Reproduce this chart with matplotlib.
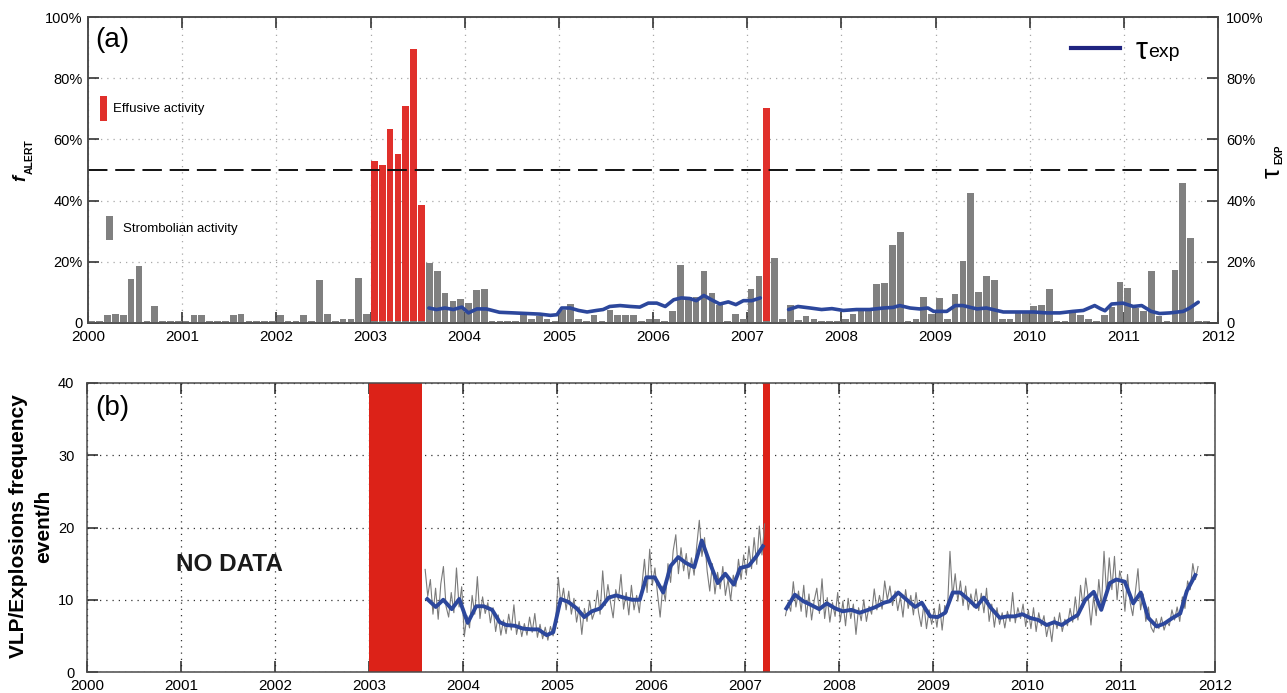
import numpy as np
import pandas as pd
import matplotlib
matplotlib.use("Agg")
import matplotlib.pyplot as plt
from matplotlib.lines import Line2D
from matplotlib.patches import Patch

plt.rcParams['font.family'] = ['Liberation Sans', 'DejaVu Sans']

# ---------------------------------------------------------------------------
# (a) monthly alert fraction f_ALERT (%) from Jan 2000 to Nov 2011
# ---------------------------------------------------------------------------
first_month = '2000-01'
strombolian = [
    0.6, 0.6, 2.7, 3.0, 2.6, 14.5, 18.7, 0.6, 5.6, 0.6, 0.6, 0.6,      # 2000
    0.6, 2.6, 2.6, 0.6, 0.6, 0.6, 2.6, 2.8, 0.6, 0.6, 0.6, 0.6,        # 2001
    2.6, 0.6, 0.6, 2.6, 0.6, 14.1, 3.0, 0.6, 1.2, 1.2, 14.6, 3.0,      # 2002
    0.6, 0.6, 0.6, 0.6, 0.6, 0.6, 0.6, 19.7, 17.1, 9.7, 7.3, 8.0,      # 2003
    6.6, 10.7, 11.2, 0.6, 0.6, 0.6, 0.6, 2.6, 1.2, 2.4, 1.2, 0.6,      # 2004
    4.2, 6.1, 1.2, 0.6, 2.7, 0.6, 4.4, 2.6, 2.6, 2.6, 0.6, 1.2,        # 2005
    1.2, 0.6, 4.0, 18.9, 8.6, 8.6, 17.1, 9.7, 5.9, 0.6, 2.8, 1.2,      # 2006
    11.2, 15.4, 0.6, 21.1, 1.2, 5.9, 1.1, 2.4, 1.2, 0.6, 0.6, 0.6,     # 2007
    1.2, 2.8, 4.0, 3.8, 12.7, 13.0, 25.6, 29.9, 0.6, 1.2, 8.6, 3.0,    # 2008
    8.3, 1.2, 9.5, 20.4, 42.4, 10.2, 15.3, 14.1, 1.2, 1.2, 3.4, 3.4,   # 2009
    5.6, 6.0, 11.2, 0.6, 0.6, 4.0, 2.6, 1.2, 0.6, 2.6, 5.3, 13.3,      # 2010
    11.3, 5.0, 3.8, 17.1, 2.4, 0.6, 17.3, 45.6, 27.7, 0.6, 0.6,        # 2011
]
effusive_months = ['2003-01', '2003-02', '2003-03', '2003-04',
                   '2003-05', '2003-06', '2003-07', '2007-03']
effusive = [52.8, 51.5, 63.5, 55.2, 70.8, 89.5, 38.4, 70.3]
alert_threshold = 50

# tau_exp (%), two observation windows
tau_t1 = [2003.62, 2003.70, 2003.79, 2003.88, 2003.97,
          2004.04, 2004.13, 2004.23, 2004.37, 2004.52, 2004.66, 2004.80, 2004.91, 2004.98,
          2005.03, 2005.12, 2005.21, 2005.30, 2005.40, 2005.47, 2005.54, 2005.65, 2005.76,
          2005.86, 2005.95,
          2006.04, 2006.13, 2006.22, 2006.30, 2006.39, 2006.46, 2006.54, 2006.62, 2006.71,
          2006.80, 2006.88, 2006.96,
          2007.05, 2007.14]
tau_v1 = [4.9, 4.4, 4.9, 4.4, 5.2,
          3.3, 4.6, 4.6, 3.5, 3.3, 3.1, 2.9, 2.5, 2.7,
          4.9, 4.9, 4.1, 3.6, 4.1, 4.4, 5.4, 5.7, 5.4, 5.2, 6.5,
          6.5, 5.4, 7.6, 8.2, 8.0, 7.3, 9.0, 7.6, 6.2, 6.9, 6.0, 7.3,
          7.3, 8.2]
tau_t2 = [2007.44, 2007.54, 2007.67, 2007.79, 2007.90,
          2008.02, 2008.16, 2008.30, 2008.45, 2008.55, 2008.62, 2008.73, 2008.83, 2008.92, 2008.98,
          2009.12, 2009.21, 2009.29, 2009.44, 2009.54, 2009.72, 2009.90,
          2010.04, 2010.18, 2010.32, 2010.46, 2010.57, 2010.69, 2010.75, 2010.80, 2010.87, 2010.99,
          2011.10, 2011.19, 2011.29, 2011.38, 2011.49, 2011.63, 2011.70, 2011.79]
tau_v2 = [4.4, 5.4, 4.9, 4.4, 4.7,
          4.1, 4.4, 4.4, 4.9, 5.1, 5.7, 4.9, 4.6, 4.9, 3.8,
          3.8, 5.7, 5.7, 4.6, 4.9, 3.6, 3.6,
          3.6, 3.3, 3.3, 3.8, 4.1, 5.7, 4.7, 4.0, 6.2, 6.5,
          5.4, 5.7, 3.8, 3.1, 3.3, 3.8, 4.9, 6.8]

# ---------------------------------------------------------------------------
# (b) VLP / explosion rate (event/h): ~10-day samples and running trend
# ---------------------------------------------------------------------------
effusive_periods = [('2003-01-01', '2003-07-26'), ('2007-03-12', '2007-04-08')]

vlp_start_1 = '2003-08'
vlp_raw_1 = [
    14.2, 10.5, 12.8, 8.0, 11.6, 7.3, 12.2, 14.6, 9.1, 7.6, 11.0, 8.2, 14.4, 9.0, 11.8,
    4.9, 7.8, 6.1, 10.6, 8.0, 13.2, 7.4, 10.4, 8.1, 9.6, 6.8, 8.9, 5.6, 7.9, 5.1,
    7.2, 5.3, 8.0, 5.8, 9.3, 5.2, 7.0, 4.9, 6.7, 5.1, 7.6, 5.5, 8.1, 4.8, 6.6,
    4.6, 6.2, 4.4, 6.3, 5.0, 7.1,
    13.1, 9.4, 11.6, 8.6, 11.2, 8.0, 10.2, 6.9, 9.0, 5.2, 8.8, 7.0, 9.9, 7.3, 8.4,
    11.3, 8.0, 14.0, 9.2, 12.1, 9.6, 7.5, 11.4, 10.0, 13.5, 8.7, 11.0, 7.9, 12.0, 8.6,
    10.6, 8.2, 11.9, 15.6, 11.0, 17.0,
    12.0, 14.4, 10.8, 7.6, 11.9, 9.8, 15.0, 12.4, 16.8, 19.0, 13.6, 17.2, 14.0, 16.4, 12.9,
    15.8, 13.4, 17.4, 21.0, 16.0, 18.6, 14.0, 11.2, 15.0, 10.8, 13.8, 11.5, 14.6, 10.6, 12.8,
    9.9, 13.4, 11.8, 15.6, 12.8, 16.2,
    13.4, 17.4, 14.3, 18.6, 14.9, 20.2, 16.2, 20.5,
]
vlp_start_2 = '2007-06'
vlp_raw_2 = [
    7.8, 9.6, 8.4, 12.5, 9.0, 11.2, 8.4, 12.0, 7.6, 10.8, 7.2, 9.9, 11.6, 8.1, 12.9,
    7.4, 10.3, 6.9, 9.6, 7.7, 11.0,
    7.0, 9.8, 6.4, 10.2, 7.4, 9.4, 5.2, 8.9, 7.1, 10.0, 7.0, 9.1, 8.0, 11.5, 8.6,
    10.6, 8.7, 12.6, 10.0, 11.9, 9.2, 11.2, 8.5, 10.4, 7.6, 11.4, 8.8, 10.6, 7.9, 11.0,
    8.2, 6.3, 9.4, 6.0, 8.6, 6.6,
    8.8, 6.2, 9.4, 5.8, 9.2, 8.3, 16.7, 10.4, 13.6, 9.8, 12.6, 9.2, 11.9, 8.6, 10.8,
    9.0, 11.5, 8.5, 10.9, 8.2, 11.6, 7.0, 9.4, 6.2, 8.9, 6.6, 8.2, 6.1, 8.4, 7.0,
    11.0, 6.8, 8.9, 7.4, 9.4, 6.3,
    8.6, 6.0, 8.9, 5.6, 8.2, 6.4, 7.8, 4.9, 6.8, 4.2, 7.6, 6.0, 8.2, 5.6, 7.3,
    6.4, 8.8, 6.9, 10.4, 7.2, 12.0, 9.0, 13.0, 10.2, 6.5, 10.4, 7.8, 12.8, 9.0, 16.7,
    10.6, 15.8, 11.4, 16.0, 10.0, 14.0,
    12.4, 8.4, 13.5, 9.6, 7.8, 11.0, 14.3, 8.6, 10.8, 7.0, 9.0, 6.2, 5.5, 7.4, 6.0,
    7.6, 5.8, 7.0, 6.4, 8.6, 7.2, 9.0, 7.0, 10.4, 8.8, 12.6, 11.4, 15.0, 12.8, 14.6,
]
samples_per_month = 3

trend_t1 = [2003.62, 2003.71, 2003.79, 2003.88, 2003.96,
            2004.05, 2004.14, 2004.22, 2004.31, 2004.39, 2004.46, 2004.55, 2004.64, 2004.73,
            2004.80, 2004.89, 2004.96,
            2005.04, 2005.12, 2005.21, 2005.29, 2005.37, 2005.46, 2005.55, 2005.63, 2005.71,
            2005.80, 2005.88, 2005.95,
            2006.04, 2006.13, 2006.21, 2006.29, 2006.37, 2006.46, 2006.54, 2006.62, 2006.71,
            2006.79, 2006.88, 2006.95,
            2007.04, 2007.12, 2007.19]
trend_v1 = [10.1, 9.0, 10.0, 8.7, 10.1,
            6.8, 9.1, 9.1, 8.6, 6.9, 6.5, 6.4, 6.0, 5.9, 5.9, 5.1, 5.5,
            10.1, 9.7, 8.8, 7.6, 8.4, 8.8, 10.3, 10.6, 10.3, 10.0, 10.0, 13.1,
            13.1, 11.0, 14.7, 15.9, 15.1, 14.5, 18.2, 15.3, 12.3, 13.6, 12.1, 14.4,
            14.7, 16.0, 17.4]
trend_t2 = [2007.44, 2007.53, 2007.62, 2007.70, 2007.79, 2007.87, 2007.96,
            2008.04, 2008.13, 2008.22, 2008.31, 2008.39, 2008.48, 2008.54, 2008.63, 2008.72,
            2008.81, 2008.88, 2008.97,
            2009.05, 2009.13, 2009.21, 2009.29, 2009.38, 2009.46, 2009.54, 2009.62, 2009.71,
            2009.79, 2009.87, 2009.95,
            2010.03, 2010.12, 2010.21, 2010.29, 2010.37, 2010.45, 2010.54, 2010.62, 2010.71,
            2010.79, 2010.88, 2010.95,
            2011.04, 2011.13, 2011.21, 2011.29, 2011.38, 2011.46, 2011.55, 2011.63, 2011.70,
            2011.79]
trend_v2 = [8.8, 10.7, 9.8, 9.3, 8.7, 9.5, 8.8,
            8.4, 8.6, 8.2, 8.6, 9.0, 9.6, 9.8, 11.0, 10.0, 9.0, 9.6, 7.7,
            7.6, 8.2, 11.0, 11.0, 10.0, 9.0, 10.3, 8.8, 7.5, 7.7, 7.7, 8.0,
            7.5, 7.2, 6.5, 6.9, 6.5, 7.2, 7.9, 10.0, 11.1, 8.6, 12.3, 12.8,
            12.5, 9.5, 11.0, 7.5, 6.3, 6.7, 7.5, 8.1, 11.2, 13.4]

years = list(range(2000, 2013))

# colours
RED_BAR = '#e0302b'
RED_SPAN = '#dc2218'
GREY_BAR = '#808080'
BLUE = '#2c479c'
NAVY = '#1f2480'
SPINE = '#4a4a4a'


def decimal_year(ts):
    ts = pd.Timestamp(ts)
    y0 = pd.Timestamp(year=ts.year, month=1, day=1)
    y1 = pd.Timestamp(year=ts.year + 1, month=1, day=1)
    return ts.year + (ts - y0) / (y1 - y0)


def month_center(period):
    return period.year + (period.month - 0.5) / 12.0


def sample_times(start_month, n):
    p = pd.Period(start_month, freq='M')
    t0 = p.year + (p.month - 1) / 12.0
    return t0 + (np.arange(n) + 0.5) / (12.0 * samples_per_month)


def style_axes(ax):
    for s in ax.spines.values():
        s.set_color(SPINE)
        s.set_linewidth(1.1)
    ax.set_xlim(2000, 2012)
    ax.set_xticks(years)
    ax.set_xticklabels([str(y) for y in years])
    ax.tick_params(axis='both', direction='in', length=8, width=1.1, color='#222222',
                   labelsize=10.5, top=True)
    ax.tick_params(axis='x', pad=5, labelsize=11)


fig = plt.figure(figsize=(12.87, 6.93), dpi=100)
W, H = 1287.0, 693.0

# ------------------------------- panel (a) ---------------------------------
ax1 = fig.add_axes([88 / W, 1 - 323 / H, (1218 - 88) / W, (323 - 17) / H])
style_axes(ax1)
ax1.set_axisbelow(True)
ax1.grid(True, linestyle=(0, (1, 4)), color='#a8a8a8', linewidth=0.9)

months = pd.period_range(first_month, periods=len(strombolian), freq='M')
bar_w = 0.85 / 12
eff_x = [month_center(pd.Period(m, freq='M')) for m in effusive_months]
ax1.bar(eff_x, effusive, width=bar_w, color=RED_BAR, linewidth=0, zorder=2)
ax1.bar([month_center(m) for m in months], strombolian, width=bar_w,
        color=GREY_BAR, linewidth=0, zorder=3)
ax1.axhline(alert_threshold, color='#111111', linewidth=1.4, dashes=(10, 4), zorder=4)

ax1.set_ylim(0, 100)
pct_ticks = [0, 20, 40, 60, 80, 100]
pct_labels = ['0'] + [f'{v}%' for v in pct_ticks[1:]]
ax1.set_yticks(pct_ticks)
ax1.set_yticklabels(pct_labels)
ax1.tick_params(axis='y', pad=4, right=False)

ax1r = ax1.twinx()
ax1r.set_ylim(0, 100)
ax1r.set_yticks(pct_ticks)
ax1r.set_yticklabels(pct_labels)
for s in ax1r.spines.values():
    s.set_color(SPINE)
    s.set_linewidth(1.1)
ax1r.tick_params(axis='y', direction='in', length=8, width=1.1, color='#222222',
                 labelsize=10.5, pad=6)
ax1r.plot(tau_t1, tau_v1, color=BLUE, linewidth=2.6, solid_capstyle='round', zorder=5)
ax1r.plot(tau_t2, tau_v2, color=BLUE, linewidth=2.6, solid_capstyle='round', zorder=5)

leg_eff = ax1.legend(handles=[Patch(facecolor=RED_BAR, edgecolor='none')],
                     labels=['Effusive activity'], loc='center left',
                     bbox_to_anchor=(0.0106, 0.701), frameon=False, fontsize=9.5,
                     handlelength=0.55, handleheight=2.6, handletextpad=0.45,
                     borderpad=0, borderaxespad=0)
ax1.add_artist(leg_eff)
ax1.legend(handles=[Patch(facecolor=GREY_BAR, edgecolor='none')],
           labels=['Strombolian activity'], loc='center left',
           bbox_to_anchor=(0.0159, 0.310), frameon=False, fontsize=9.5,
           handlelength=0.5, handleheight=2.4, handletextpad=0.8,
           borderpad=0, borderaxespad=0)

ax1r.legend(handles=[Line2D([], [], color=NAVY, linewidth=3)], labels=['τ'],
            loc='center left', bbox_to_anchor=(0.870, 0.889), frameon=False,
            fontsize=22, handlelength=1.6, handletextpad=0.5,
            borderpad=0, borderaxespad=0)
ax1r.text(0.9385, 0.868, 'exp', transform=ax1r.transAxes, fontsize=14,
          va='baseline', ha='left')

ax1.text(0.006, 0.968, '(a)', transform=ax1.transAxes, fontsize=20, va='top', ha='left')

# axis titles of panel (a)
fig.text(21 / W, 1 - 178 / H, 'f', rotation=90, fontsize=13, fontweight='bold',
         fontstyle='italic', ha='center', va='center')
fig.text(30 / W, 1 - 157 / H, 'ALERT', rotation=90, fontsize=7.5, fontweight='bold',
         ha='center', va='center')
fig.text(1273 / W, 1 - 173 / H, 'τ', rotation=90, fontsize=19,
         ha='center', va='center')
fig.text(1279 / W, 1 - 154 / H, 'EXP', rotation=90, fontsize=7, fontweight='bold',
         ha='center', va='center')

# ------------------------------- panel (b) ---------------------------------
ax2 = fig.add_axes([87 / W, 1 - 672 / H, (1215 - 87) / W, (672 - 383) / H])
style_axes(ax2)
ax2.set_axisbelow(True)
ax2.grid(True, linestyle=(0, (1, 4)), color='#333333', linewidth=0.9)
ax2.set_ylim(0, 40)
ax2.set_yticks([0, 10, 20, 30, 40])
ax2.tick_params(axis='y', pad=9, right=True)

for start, end in effusive_periods:
    ax2.axvspan(decimal_year(start), decimal_year(end), color=RED_SPAN, linewidth=0, zorder=1)

ax2.plot(sample_times(vlp_start_1, len(vlp_raw_1)), vlp_raw_1, color='#7a7a7a',
         linewidth=0.8, zorder=2)
ax2.plot(sample_times(vlp_start_2, len(vlp_raw_2)), vlp_raw_2, color='#7a7a7a',
         linewidth=0.8, zorder=2)
ax2.plot(trend_t1, trend_v1, color=BLUE, linewidth=2.8, zorder=3)
ax2.plot(trend_t2, trend_v2, color=BLUE, linewidth=2.8, zorder=3)

ax2.text(2001.51, 14.9, 'NO DATA', fontsize=17.5, fontweight='bold', color='#1a1a1a',
         ha='center', va='center')
ax2.text(0.007, 0.958, '(b)', transform=ax2.transAxes, fontsize=20, va='top', ha='left')

fig.text(31 / W, 1 - 526 / H, 'VLP/Explosions frequency\nevent/h', rotation=90,
         fontsize=15, fontweight='bold', ha='center', va='center',
         multialignment='center', linespacing=1.4)

fig.savefig('out.png', dpi=100)
